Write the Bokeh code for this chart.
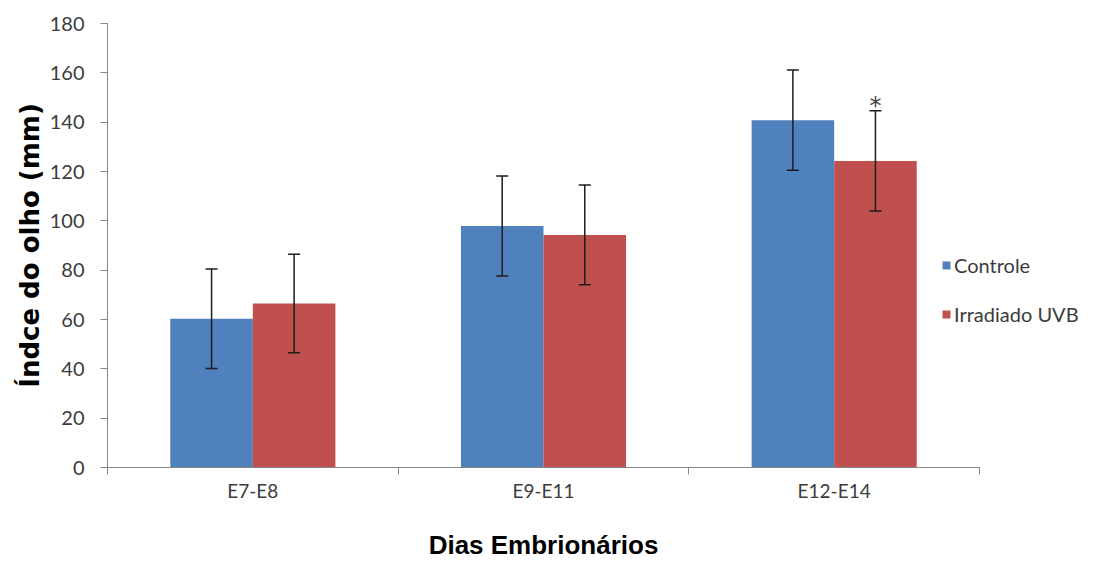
from bokeh.plotting import figure
from bokeh.models import (ColumnDataSource, Range1d, FixedTicker, Whisker, TeeHead,
                          Legend, LegendItem, LinearAxis)
from bokeh.core.properties import value
from bokeh.embed import file_html
from bokeh.resources import INLINE

# ---- data ----
categories = ["E7-E8", "E9-E11", "E12-E14"]
controle = [60.3, 97.9, 140.8]
irradiado = [66.5, 94.3, 124.3]
err_controle = [20.2, 20.3, 20.3]
err_irradiado = [20.0, 20.2, 20.3]
series_names = ["Controle", "Irradiado UVB"]
significant = [False, False, True]   # asterisk over Irradiado UVB
y_ticks = [0, 20, 40, 60, 80, 100, 120, 140, 160, 180]
x_title = "Dias Embrionários"
y_title = "Índce do olho (mm)"

BLUE = "#4F81BD"
RED = "#C0504D"
TXT = "#3c3c3c"
AX = "#868686"
ERR = "#1c1c1c"
bar_w = 0.284

n = len(categories)
centers = [i + 0.5 for i in range(n)]
x_c = [c - bar_w / 2 for c in centers]
x_r = [c + bar_w / 2 for c in centers]

src_c = ColumnDataSource(dict(x=x_c, top=controle,
                              upper=[v + e for v, e in zip(controle, err_controle)],
                              lower=[v - e for v, e in zip(controle, err_controle)]))
src_r = ColumnDataSource(dict(x=x_r, top=irradiado,
                              upper=[v + e for v, e in zip(irradiado, err_irradiado)],
                              lower=[v - e for v, e in zip(irradiado, err_irradiado)]))

# frame spans 107..1085 px; the category axis itself covers 107..979 px
W, H = 1090, 566
left, right_edge, axis_end = 107, 1085, 979
x_max = n * (right_edge - left) / (axis_end - left)

p = figure(width=W, height=H, output_backend="svg", toolbar_location=None,
           x_range=Range1d(0, x_max), y_range=Range1d(y_ticks[0], y_ticks[-1]),
           min_border_left=left, min_border_right=W - right_edge, min_border_top=23,
           min_border_bottom=H - 467)
p.outline_line_color = None
p.grid.visible = False
p.background_fill_color = "white"
p.border_fill_color = "white"

rc = p.vbar(x="x", top="top", width=bar_w, source=src_c, fill_color=BLUE, line_color=None)
rr = p.vbar(x="x", top="top", width=bar_w, source=src_r, fill_color=RED, line_color=None)

for src in (src_c, src_r):
    w = Whisker(base="x", upper="upper", lower="lower", source=src,
                line_color=ERR, line_width=1.5, level="overlay",
                upper_head=TeeHead(size=12, line_color=ERR, line_width=1.5),
                lower_head=TeeHead(size=12, line_color=ERR, line_width=1.5))
    p.add_layout(w)

# significance asterisk
sx = [x_r[i] for i in range(n) if significant[i]]
sy = [irradiado[i] + err_irradiado[i] + 2 for i in range(n) if significant[i]]
p.text(x=sx, y=sy, text=["*"] * len(sx), text_align="center", text_baseline="middle",
       text_font=value("DejaVu Sans"), text_font_size="24px", text_color="#404040")

# y axis
ya = p.yaxis[0]
ya.ticker = FixedTicker(ticks=y_ticks)
ya.axis_line_color = AX
ya.major_tick_line_color = AX
ya.major_tick_out = 7
ya.major_tick_in = 0
ya.minor_tick_line_color = None
ya.major_label_text_font = "Lato"
ya.major_label_text_font_size = "20px"
ya.major_label_text_color = TXT
ya.major_label_standoff = 16
ya.axis_label = y_title
ya.axis_label_text_font = "DejaVu Sans"
ya.axis_label_text_font_style = "bold"
ya.axis_label_text_font_size = "26px"
ya.axis_label_text_color = "black"
ya.axis_label_standoff = 2

# x axis: labels at category centres, ticks at boundaries; bounded to the categories
xa = p.xaxis[0]
xa.bounds = (0, n)
xa.ticker = FixedTicker(ticks=centers, minor_ticks=list(range(n + 1)))
xa.major_label_overrides = {c: lab for c, lab in zip(centers, categories)}
xa.axis_line_color = AX
xa.major_tick_line_color = None
xa.major_tick_out = 0
xa.major_tick_in = 0
xa.minor_tick_line_color = AX
xa.minor_tick_out = 7
xa.minor_tick_in = 0
xa.major_label_text_font = "Lato"
xa.major_label_text_font_size = "19px"
xa.major_label_text_color = TXT
xa.major_label_standoff = 4

# x-axis title: a line-less axis whose only label sits at the middle of the categories
mid = n / 2
ta = LinearAxis(ticker=FixedTicker(ticks=[mid]), bounds=(0, n),
                major_label_overrides={mid: x_title},
                axis_line_color=None, major_tick_line_color=None,
                minor_tick_line_color=None, major_tick_out=0, major_tick_in=0,
                major_label_standoff=25,
                major_label_text_font="Liberation Sans",
                major_label_text_font_style="bold",
                major_label_text_font_size="26px",
                major_label_text_color="black")
p.add_layout(ta, "below")

legend = Legend(items=[LegendItem(label=series_names[0], renderers=[rc]),
                       LegendItem(label=series_names[1], renderers=[rr])],
                location=(834, 141), orientation="vertical",
                glyph_width=10, glyph_height=10, label_standoff=3, spacing=25,
                padding=0, margin=0, border_line_color=None,
                background_fill_alpha=0,
                label_text_font="Lato", label_text_font_size="20px",
                label_text_color=TXT)
p.add_layout(legend)

open("out.html", "w").write(file_html(p, INLINE))
